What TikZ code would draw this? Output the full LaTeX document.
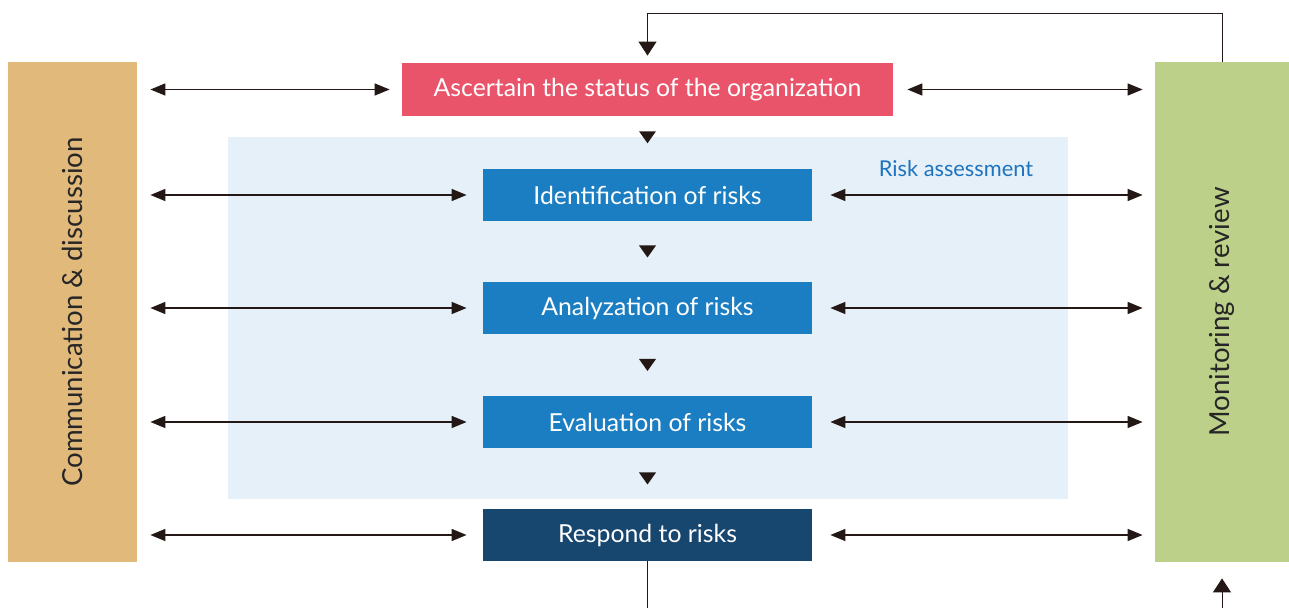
\documentclass[tikz,border=0pt]{standalone}
\usepackage{fontspec}
\setmainfont{Lato}
\usetikzlibrary{arrows.meta,positioning,calc}

\definecolor{sidetan}{HTML}{E1B97B}
\definecolor{sidegreen}{HTML}{BDD089}
\definecolor{headpink}{HTML}{E9546B}
\definecolor{stepblue}{HTML}{1B7EC2}
\definecolor{stepnavy}{HTML}{17466F}
\definecolor{zoneblue}{HTML}{E5F0F8}
\definecolor{labelblue}{HTML}{1E73BE}
\definecolor{tipblack}{HTML}{231815}
\definecolor{linegray}{HTML}{666464}

\begin{document}
\begin{tikzpicture}[
    x=0.5pt, y=-0.5pt,
    stepbox/.style={fill=stepblue, text=white, inner sep=0pt,
      minimum width=164.5pt, minimum height=26pt,
      font=\fontsize{12.4}{14}\selectfont},
    sidebar/.style={inner sep=0pt, minimum height=250pt,
      text=black!85, font=\fontsize{13.8}{16}\selectfont},
    link/.style={draw=linegray, line width=0.75pt,
      {Triangle[length=7.5pt,width=6pt]}-{Triangle[length=7.5pt,width=6pt]},
      tipblack},
    feed/.style={draw=tipblack, line width=0.5pt}
  ]
  \useasboundingbox (0,0) rectangle (1289,608);

  % risk assessment zone
  \node[fill=zoneblue, minimum width=420pt, minimum height=181pt,
    inner sep=0pt] (zone) at (648,318) {};
  \node[text=labelblue, font=\fontsize{10.9}{12}\selectfont]
    (zonelabel) at (956,169) {Risk assessment};

  % side bars
  \node[sidebar, fill=sidetan, minimum width=64.5pt] (lft) at (72.5,312)
    {\rotatebox{90}{Communication \& discussion}};
  \node[sidebar, fill=sidegreen, minimum width=67pt] (rgt) at (1222,312)
    {\rotatebox{90}{Monitoring \& review}};

  % process steps
  \node[stepbox, fill=headpink, minimum width=245.5pt, minimum height=26.5pt]
    (0) at (647.5,89.5) {Ascertain the status of the organization};
  \node[stepbox] (1) at (647.5,195) {Identification of risks};
  \node[stepbox] (2) at (647.5,308) {Analyzation of risks};
  \node[stepbox] (3) at (647.5,422) {Evaluation of risks};
  \node[stepbox, fill=stepnavy] (4) at (647.5,535) {Respond to risks};

  % flow markers
  \foreach \a/\b/\p in {0/1/.4, 1/2/.5, 2/3/.5, 3/4/.5}
    \fill[tipblack] ($(\a.south)!\p!(\b.north)$) ++(-8.5,-6)
      -- ++(17,0) -- ++(-8.5,12) -- cycle;

  % two-way links to the side bars
  \draw[link, shorten <=6.5pt, shorten >=6pt] (lft.east |- 0.west) -- (0.west);
  \draw[link, shorten <=7pt, shorten >=6pt] (0.east) -- (rgt.west |- 0.east);
  \foreach \n in {1,...,4} {
    \draw[link, shorten <=6.5pt, shorten >=8pt] (lft.east |- \n.west) -- (\n.west);
    \draw[link, shorten <=9pt, shorten >=6pt] (\n.east) -- (rgt.west |- \n.east);
  }

  % feedback loop
  \draw[feed, -{Triangle[length=7pt,width=9pt]}, shorten >=3.5pt]
    (rgt.north) -- ++(0,-48) -| (0.north);
  \coordinate (out) at (647.5,608);
  \coordinate (in) at (1222,608);
  \draw[feed] (4.south) -- (out);
  \draw[feed, -{Triangle[length=7pt,width=9pt]}, shorten >=8pt]
    (in) -- (rgt.south);
\end{tikzpicture}
\end{document}
